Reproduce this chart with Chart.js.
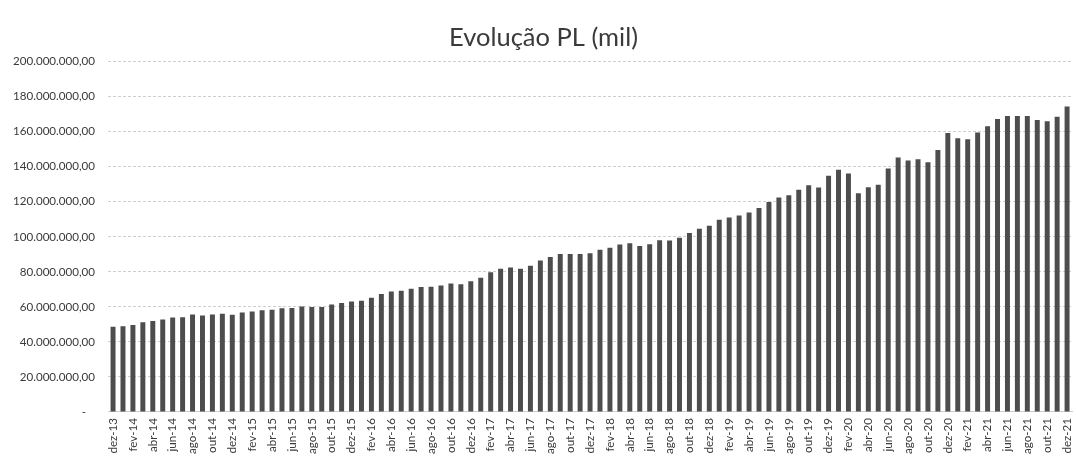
<!DOCTYPE html>
<html>
<head>
<meta charset="utf-8">
<script src="https://cdn.jsdelivr.net/npm/chart.js@4"></script>
<style>
  html, body { margin: 0; padding: 0; background: #fff; overflow: hidden; }
  #wrap { width: 1087px; height: 460px; position: relative; }
</style>
</head>
<body>
<div id="wrap"><canvas id="plChart"></canvas></div>
<script>
const meses = [
    'dez-13',
    'jan-14','fev-14','mar-14','abr-14','mai-14','jun-14','jul-14','ago-14','set-14','out-14','nov-14','dez-14',
    'jan-15','fev-15','mar-15','abr-15','mai-15','jun-15','jul-15','ago-15','set-15','out-15','nov-15','dez-15',
    'jan-16','fev-16','mar-16','abr-16','mai-16','jun-16','jul-16','ago-16','set-16','out-16','nov-16','dez-16',
    'jan-17','fev-17','mar-17','abr-17','mai-17','jun-17','jul-17','ago-17','set-17','out-17','nov-17','dez-17',
    'jan-18','fev-18','mar-18','abr-18','mai-18','jun-18','jul-18','ago-18','set-18','out-18','nov-18','dez-18',
    'jan-19','fev-19','mar-19','abr-19','mai-19','jun-19','jul-19','ago-19','set-19','out-19','nov-19','dez-19',
    'jan-20','fev-20','mar-20','abr-20','mai-20','jun-20','jul-20','ago-20','set-20','out-20','nov-20','dez-20',
    'jan-21','fev-21','mar-21','abr-21','mai-21','jun-21','jul-21','ago-21','set-21','out-21','nov-21','dez-21'
];

// PL em milhoes de reais
const plMilhoes = [
    48.6,
    49.0, 49.7, 51.2, 52.0, 52.8, 53.9, 54.1, 55.6, 55.0, 55.6, 56.0, 55.5,
    56.8, 57.3, 58.1, 58.3, 59.2, 59.4, 60.2, 59.9, 59.9, 61.4, 62.2, 63.0,
    63.5, 65.2, 67.3, 68.8, 69.2, 70.3, 71.3, 71.5, 72.2, 73.4, 72.9, 74.6,
    76.6, 79.7, 81.7, 82.5, 81.8, 83.5, 86.4, 88.4, 90.2, 90.2, 90.2, 90.6,
    92.6, 93.7, 95.6, 96.3, 94.7, 95.8, 98.0, 97.9, 99.4, 102.2, 104.6, 106.3,
    109.7, 111.0, 112.1, 113.8, 116.4, 119.9, 122.4, 123.7, 126.9, 129.4, 128.1, 134.9,
    138.3, 136.1, 124.9, 128.3, 129.7, 139.0, 145.2, 143.6, 144.3, 142.6, 149.6, 159.2,
    156.3, 155.7, 159.6, 163.1, 167.2, 168.9, 168.9, 168.9, 166.6, 166.0, 168.5, 174.3
];

const yMax = 200;
const yStep = 20;

function formatBR(v) {
    const inteiro = Math.round(v).toString().replace(/\B(?=(\d{3})+(?!\d))/g, '.');
    return inteiro + ',00';
}

const ctx = document.getElementById('plChart').getContext('2d');
new Chart(ctx, {
    type: 'bar',
    data: {
        labels: meses,
        datasets: [{
            label: 'PL',
            data: plMilhoes,
            backgroundColor: '#4d4d4d',
            borderWidth: 0,
            barPercentage: 0.5,
            categoryPercentage: 1.0
        }]
    },
    options: {
        responsive: true,
        maintainAspectRatio: false,
        animation: false,
        plugins: {
            legend: { display: false },
            tooltip: { enabled: false },
            title: {
                display: true,
                text: 'Evolução PL (mil)',
                color: '#3a3a3a',
                font: { family: 'Lato', size: 25.5, weight: 'normal' },
                padding: { top: 22, bottom: 9 }
            }
        },
        scales: {
            y: {
                min: 0,
                max: yMax,
                ticks: {
                    stepSize: yStep,
                    color: '#3a3a3a',
                    padding: 13,
                    font: { family: 'Lato', size: 11.6 },
                    callback: (v) => v === 0 ? '-   ' : formatBR(v * 1e6)
                },
                grid: { color: '#cfcfcf', drawTicks: false },
                border: { display: false, dash: [3, 2] }
            },
            x: {
                ticks: {
                    autoSkip: false,
                    maxRotation: 90,
                    minRotation: 90,
                    color: '#3a3a3a',
                    padding: 6,
                    font: { family: 'Lato', size: 11.6 },
                    callback: function (v, i) { return i % 2 === 0 ? this.getLabelForValue(v) : ''; }
                },
                grid: { display: false, drawTicks: false },
                border: { color: '#cccccc' }
            }
        }
    }
});
</script>
</body>
</html>
